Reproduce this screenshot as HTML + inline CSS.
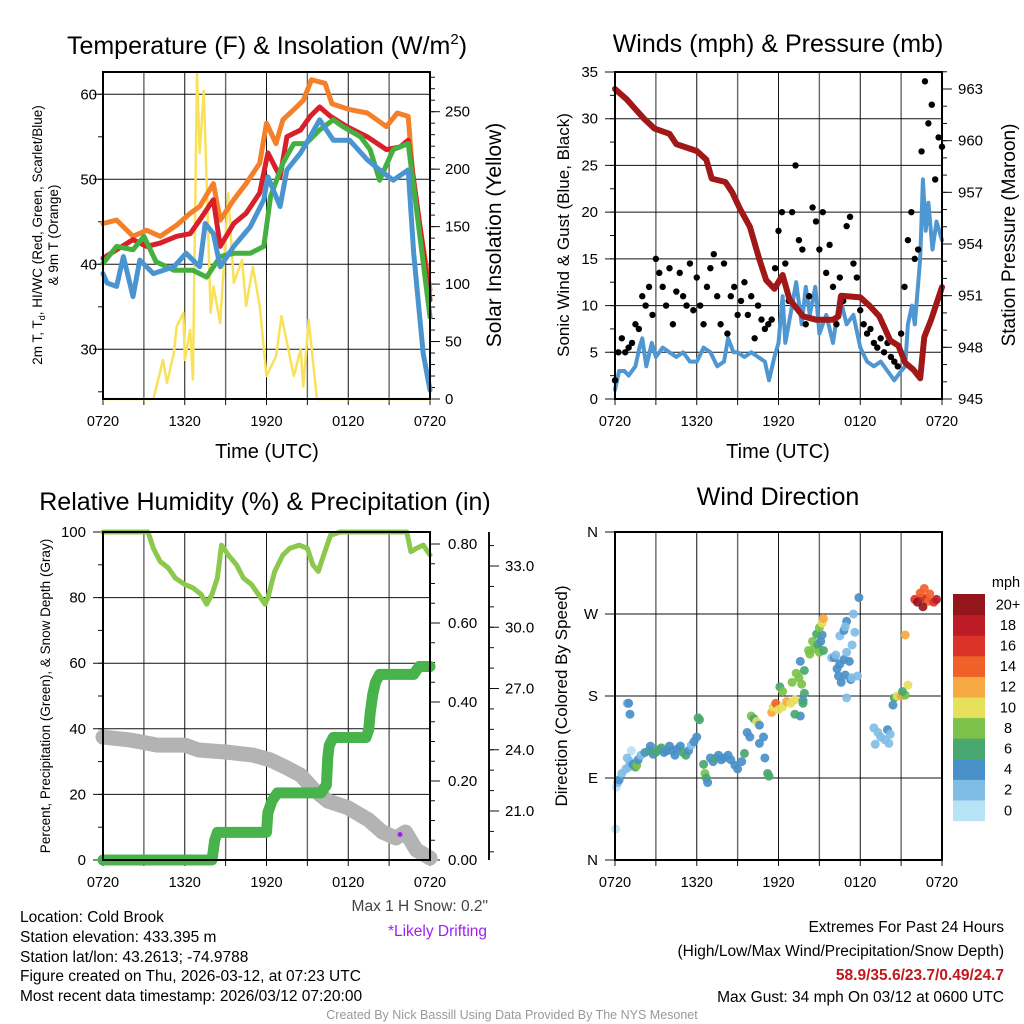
<!DOCTYPE html>
<html><head><meta charset="utf-8">
<style>
html,body{margin:0;padding:0;background:#fff;}
svg{display:block;font-family:"Liberation Sans",Arial,sans-serif;}
</style></head>
<body>
<svg id="c" width="1024" height="1024" viewBox="0 0 1024 1024" xmlns="http://www.w3.org/2000/svg">
<rect width="1024" height="1024" fill="#fff"/>
<g id="p1"></g>
<g id="p2"></g>
<g id="p3"></g>
<g id="p4"></g>
<g font-size="25" text-anchor="middle" fill="#000">
<text x="267" y="54">Temperature (F) &amp; Insolation (W/m<tspan dy="-10" font-size="15">2</tspan><tspan dy="10">)</tspan></text>
<text x="778" y="52">Winds (mph) &amp; Pressure (mb)</text>
<text x="265" y="510">Relative Humidity (%) &amp; Precipitation (in)</text>
<text x="778" y="505">Wind Direction</text>
</g>
<g fill="#000" text-anchor="middle">
<text x="267" y="458" font-size="20">Time (UTC)</text>
<text x="778" y="458" font-size="20">Time (UTC)</text>
<text transform="translate(42,235) rotate(-90)" font-size="13.5">2m T, T<tspan font-size="9" dy="3">d</tspan><tspan dy="-3">, HI/WC (Red, Green, Scarlet/Blue)</tspan></text>
<text transform="translate(58,235) rotate(-90)" font-size="13.5">&amp; 9m T (Orange)</text>
<text transform="translate(501,235) rotate(-90)" font-size="21">Solar Insolation (Yellow)</text>
<text transform="translate(569,235) rotate(-90)" font-size="17">Sonic Wind &amp; Gust (Blue, Black)</text>
<text transform="translate(1015,235) rotate(-90)" font-size="19">Station Pressure (Maroon)</text>
<text transform="translate(50,696) rotate(-90)" font-size="13.5">Percent, Precipitation (Green), &amp; Snow Depth (Gray)</text>
<text transform="translate(567,696) rotate(-90)" font-size="17">Direction (Colored By Speed)</text>
</g>
<g font-size="15.5" fill="#000">
<text x="20" y="922">Location: Cold Brook</text>
<text x="20" y="942">Station elevation: 433.395 m</text>
<text x="20" y="962">Station lat/lon: 43.2613; -74.9788</text>
<text x="20" y="981">Figure created on Thu, 2026-03-12, at 07:23 UTC</text>
<text x="20" y="1001">Most recent data timestamp: 2026/03/12 07:20:00</text>
<text x="488" y="911" text-anchor="end" fill="#444">Max 1 H Snow: 0.2"</text>
<text x="487" y="936" text-anchor="end" fill="#a020f0">*Likely Drifting</text>
<text x="1004" y="932" text-anchor="end">Extremes For Past 24 Hours</text>
<text x="1004" y="956" text-anchor="end">(High/Low/Max Wind/Precipitation/Snow Depth)</text>
<text x="1004" y="980" text-anchor="end" fill="#c0181e" font-weight="bold">58.9/35.6/23.7/0.49/24.7</text>
<text x="1004" y="1002" text-anchor="end">Max Gust: 34 mph On 03/12 at 0600 UTC</text>
<text x="512" y="1019" text-anchor="middle" font-size="12.5" fill="#999">Created By Nick Bassill Using Data Provided By The NYS Mesonet</text>
</g>
</svg>
<script>
// ---------- Panel 1 data ----------
const tRedH=[0,1,2.2,3.2,4.2,5.4,6.4,7.1,8.1,8.6,9.6,10.5,11.5,12.1,13,13.5,14.5,15.2,15.9,16.7,17.9,19.4,20.8,21.8,22.4,22.8,24];
const tRed=[40.7,41.7,42.9,42.1,42.5,43.3,43.6,45.2,47.6,42.1,44.8,46,48.4,53.1,50.3,55,55.8,57.4,58.5,57.4,56.2,55,53.5,53.8,54.6,49.9,35.8];
const tOrgH=[0,1,2.2,3.2,4.2,5.4,6.4,7.1,8.1,8.6,9.6,10.5,11.5,12,12.7,13.2,14,14.7,15.3,16.3,16.8,18.1,19.4,20.8,21.6,22.4,22.8,24];
const tOrg=[44.8,45.2,43.3,44,43.3,44.6,46,46.8,49.5,45.2,47.6,49.5,51.9,56.6,54.2,57,58.2,59.3,61.7,61.3,58.9,58.2,57.8,56.2,57.8,57.4,49.1,37];
const tGrnH=[0,1,2.2,3,3.9,5.2,6.6,7.6,8.6,9.6,10.8,11.8,12.3,13.2,14,14.9,15.9,16.9,17.6,18.9,19.6,20.3,21.3,22.4,22.8,24];
const tGrn=[40.1,42.1,41.7,43.3,40.3,39.3,39.3,38.5,40.9,41.3,41.3,42.1,48,51.9,54.2,54.2,55.8,57,56.2,55,53.5,49.9,53.5,54.2,49.1,33.8];
const tBluH=[0,0.3,1,1.5,2.2,2.7,3.7,5.2,6.1,7.1,7.5,8.1,8.6,9.6,10.8,11.8,12.1,13,13.5,14.5,15.2,15.9,16.9,18.1,19.4,20.3,21.3,22.4,22.8,23.5,24];
const tBlu=[38.9,37.8,37.4,40.9,36.2,40.5,38.9,39.7,41.3,39.7,44.8,43.6,39.7,42.1,44.4,47.6,50.3,46.8,51.1,53.1,55,57,54.6,54.6,52.3,51.1,49.9,51.1,41.3,29.5,25.2];
const solarH=[0,3.7,4.4,4.7,5.2,5.4,5.9,6.0,6.4,6.6,6.9,7.1,7.4,7.9,8.1,8.6,9.2,9.6,10.2,10.5,11.0,11.5,12,12.7,13.1,14,14.5,14.7,15.1,15.7,24];
const solar=[0,0,34,14,40,63,75,34,60,17,283,214,268,75,98,66,179,101,121,81,115,81,20,37,72,20,43,11,69,0,0];
const p1LeftTicks=[30,40,50,60];
const p1RightTicks=[0,50,100,150,200,250];
const timeLabels=["0720","1320","1920","0120","0720"];
// ---------- Panel 2 data ----------
const windH=[0,0.3,0.7,1,1.5,1.8,2,2.3,2.7,3,3.5,4,4.5,5,5.5,6,6.5,7,7.5,8,8.3,8.7,9,9.5,10,10.5,11,11.3,11.7,12,12.3,12.5,13,13.3,13.7,14,14.3,14.7,15,15.5,16,16.5,17,17.5,18,18.5,19,19.5,20,20.5,21,21.3,21.5,21.8,22,22.4,22.6,22.8,23,23.3,23.6,24];
const wind=[1,3,3,2.5,3.5,5.5,6.5,3.5,6,4.5,5.5,5,4.5,5,4,4,5.5,5,3.5,4,6.5,5,5,4.5,5,4.5,4,2,4.5,6,11,6,10,12.5,8,12,9,12,7,9,6,11,8,9,5.5,4,3.5,4,3,2,3,3.5,8,10,8,15,23.5,18,21,16,19,17];
const gust=[2,5,6.5,5,5.5,6,8,7.5,11,10,
12,9,15,13.5,12,10,14,8,11.5,13.5,
11,10,14.5,9.5,13,10,8,12,14,15.5,
11,8,14.5,7,11,12,9,10.5,12.5,9,
11,6.5,10,8.5,7.5,8,8.5,14,18,20,
14.5,10.5,20,25,17,16,8,11,20.5,19,
16,20,13.5,16.5,12,8,13,10.5,18.5,19.5,
14.5,13,9.5,8,7,7.5,6,5.5,6.5,5,
6,4.5,4,3.5,7,12,17,20,15,16,
26.5,34,29.5,31.5,23.5,28,27];
const presH=[0,0.85,2.1,2.9,4.0,4.5,6.0,6.7,7.1,8.1,8.6,9.2,9.9,10.6,11.1,11.7,12.3,12.8,13.8,14.8,16,16.4,16.6,18,18.7,19.4,20.2,20.8,21.3,21.9,22.4,22.7,23.2,24];
const pres=[963,962.4,961.3,960.7,960.4,959.8,959.4,958.9,957.8,957.6,957,956,955,953.1,951.9,951.4,952.2,950.8,949.8,949.6,949.6,949.8,951,950.9,950.4,949.8,948.4,948.1,947.1,946.7,946.2,948.6,949.6,951.5];
const p2LeftTicks=[0,5,10,15,20,25,30,35];
const p2RightTicks=[945,948,951,954,957,960,963];
// ---------- Panel 3 data ----------
const rhH=[0,3.3,3.7,4.2,4.8,5.3,6.0,6.6,7.2,7.6,8.0,8.4,8.7,9.2,9.8,10.3,10.9,11.4,11.9,12.1,12.6,13.2,13.7,14.4,15.0,15.4,15.8,16.2,16.7,17.4,22.3,22.6,23.0,23.5,24];
const rh=[100,100,95,91,89,86,84,83,81,78,81,86,96,93,90,86,84,81,78,80,88,93,95,96,95,90,88,93,99,100,100,94,95,96,93];
const prcH=[0,8.0,8.2,8.4,12.0,12.1,12.4,12.8,16.0,16.4,16.5,16.6,16.9,19.3,19.5,19.6,19.8,20.0,20.3,22.8,23.2,24];
const prc=[0,0,0.05,0.07,0.07,0.12,0.15,0.17,0.17,0.19,0.26,0.29,0.31,0.31,0.33,0.37,0.42,0.45,0.47,0.47,0.49,0.49];
const snowH=[0,2,4,6,7,9,11,12.3,13.5,14.5,15.5,16.5,18,19.5,20.5,21.5,22.2,23,24];
const snow=[24.62,24.48,24.23,24.23,23.99,23.89,23.74,23.5,23.11,22.76,22.03,21.49,21.15,20.56,19.97,19.68,19.97,19.09,18.7];
const driftH=[21.8];
const driftS=[19.85];
const p3LeftTicks=[0,20,40,60,80,100];
const p3PrecTicks=[0,0.2,0.4,0.6,0.8];
const p3SnowTicks=[21,24,27,30,33];
// ---------- Panel 4 data ----------
const dirH=[0.05,0.1,0.2,0.3,0.5,0.8,1.0,1.1,1.3,1.5,1.6,1.2,0.9,1.7,1.9,2.2,2.5,2.6,2.8,3.0,3.2,3.4,3.6,3.8,4.0,4.2,4.4,4.6,4.8,5.0,5.2,5.4,5.6,5.8,6.0,1.1,0.9,1.0,6.5,6.6,6.7,6.8,7.0,7.2,7.4,7.6,7.8,8.0,8.3,8.5,8.8,9.0,9.3,6.1,6.2,9.5,10.0,10.2,9.7,9.9,10.4,10.6,10.6,10.9,11.0,11.2,11.3,11.5,11.6,11.8,12.0,12.3,12.6,12.9,13.2,12.1,12.3,13.0,13.3,13.5,13.7,13.9,13.8,13.6,13.2,13.6,13.9,13.8,14.2,14.3,14.5,14.6,14.9,15.0,15.1,15.2,15.3,14.8,15.0,15.2,15.3,15.9,16.1,16.3,16.5,16.8,17.0,17.2,16.9,17.3,16.6,16.4,17.4,17.0,16.5,16.8,17.0,16.9,17.4,17.6,17.5,17.9,16.2,17.8,19.0,19.3,19.5,19.8,20.0,20.2,19.1,20.1,20.4,20.5,20.7,21.0,21.3,21.1,21.5,21.3,22.0,22.2,22.5,22.8,23.0,22.4,22.6,23.4,23.6,23.1,22.7];
const dirDeg=[34,80,85,88,95,100,102,108,105,102,104,120,112,110,115,118,120,125,116,118,121,123,118,120,125,120,115,122,125,118,115,120,126,130,135,160,172,172,105,95,90,85,112,108,112,115,110,112,115,110,104,100,108,156,154,117,158,155,140,135,152,148,128,135,112,95,92,162,168,172,165,168,174,172,176,190,185,195,205,200,193,183,175,158,160,218,208,172,230,226,240,232,236,228,240,247,230,248,255,260,265,222,222,210,215,220,228,218,203,198,195,202,200,178,246,252,262,256,236,250,270,288,225,202,145,140,135,132,143,138,127,128,170,178,180,180,181,185,192,247,286,283,288,287,284,293,278,283,286,292,298];
const dirSpd=[1,1,3,4,3,2,2,2,5,7,8,1,3,4,3,4,7,4,5,6,6,6,4,4,5,4,4,5,4,6,6,4,3,4,4,4,3,4,6,8,6,4,4,4,6,4,4,4,4,4,4,4,4,7,6,6,8,7,4,4,10,4,4,4,4,6,6,12,10,14,10,11,12,11,10,6,8,8,8,8,8,6,4,4,6,4,6,6,8,8,8,8,6,8,4,4,6,6,8,10,12,2,4,4,4,4,2,4,4,4,4,4,2,2,2,4,4,2,2,2,2,4,2,2,2,2,2,3,4,2,2,3,4,6,10,12,8,6,10,12,16,20,18,16,14,14,20,16,18,14,14];
const dirTicks=[0,90,180,270,360];
const dirTickLabels=["N","E","S","W","N"];
const cbLabels=["0","2","4","6","8","10","12","14","16","18","20+"];
const cbColors=["#b8e3f7","#80bde6","#4a90c8","#48a870","#7cc24a","#e6e05a","#f6a843","#f0612a","#dc3328","#bb1c25","#94161c"];

// ---------- helpers ----------
const NS="http://www.w3.org/2000/svg";
function mk(parent,tag,attrs){const e=document.createElementNS(NS,tag);for(const k in attrs)e.setAttribute(k,attrs[k]);parent.appendChild(e);return e;}
function lin(d0,d1,r0,r1){return v=>r0+(v-d0)*(r1-r0)/(d1-d0);}
function pathFrom(hs,vs,sx,sy){return hs.map((h,i)=>(i?"L":"M")+sx(h).toFixed(1)+","+sy(vs[i]).toFixed(1)).join("");}
function frame(g,B){
  for(let k=0;k<=8;k++){const x=B.x0+k*(B.x1-B.x0)/8;
    const l=mk(g,"line",{x1:x,x2:x,y1:B.y0,y2:B.y1,stroke:k%2?"#666":"#111","stroke-width":k%2?1.4:1});
    
    
    const t=mk(g,"line",{x1:x,x2:x,y1:B.y1,y2:B.y1+6,stroke:"#111","stroke-width":1});
    
    
  }
  for(let k=0;k<5;k++){const x=B.x0+k*(B.x1-B.x0)/4;
    const t=mk(g,"text",{x:x,y:B.y1+27,"font-size":14.5,"text-anchor":"middle",fill:"#000"});t.textContent=timeLabels[k];
    
    
  }
}
function hgrid(g,B,ticks,sy,labels,lx){
  ticks.forEach((v,i)=>{const y=sy(v);
    const l=mk(g,"line",{x1:B.x0-10,x2:B.x1,y1:y,y2:y,stroke:"#111","stroke-width":1});
    
    
    const t=mk(g,"text",{x:lx,y:y+5,"font-size":15,"text-anchor":"end",fill:"#000"});t.textContent=labels?labels[i]:v;
    
    
  });
}
function rightAxis(g,x,y0,y1,ticks,sy,fmt,minorStep,dmin,dmax,lx){
  const a=mk(g,"line",{x1:x,x2:x,y1:y0,y2:y1,stroke:"#111","stroke-width":2});
  
  
  for(let v=dmin;v<=dmax+1e-9;v+=minorStep){const y=sy(v);if(y<y0-0.5||y>y1+0.5)continue;
    const m=mk(g,"line",{x1:x,x2:x+5,y1:y,y2:y,stroke:"#111","stroke-width":1});
    
    }
  ticks.forEach(v=>{const y=sy(v);
    const m=mk(g,"line",{x1:x,x2:x+10,y1:y,y2:y,stroke:"#111","stroke-width":1});
    
    
    const t=mk(g,"text",{x:lx,y:y+5,"font-size":15,"text-anchor":"start",fill:"#000"});t.textContent=fmt(v);
    
    });
}
function leftMinor(g,B,sy,step,dmin,dmax){
  for(let v=dmin;v<=dmax+1e-9;v+=step){const y=sy(v);if(y<B.y0-0.5||y>B.y1+0.5)continue;
    const m=mk(g,"line",{x1:B.x0-5,x2:B.x0,y1:y,y2:y,stroke:"#111","stroke-width":1});
    
    }
}
function box(g,B){const r=mk(g,"rect",{x:B.x0,y:B.y0,width:B.x1-B.x0,height:B.y1-B.y0,fill:"none",stroke:"#000","stroke-width":2});
  
  }
function series(g,hs,vs,sx,sy,color,w,name){const p=mk(g,"path",{d:pathFrom(hs,vs,sx,sy),fill:"none",stroke:color,"stroke-width":w,"stroke-linejoin":"round","stroke-linecap":"round"});
  
  return p;}

// ---------- Panel 1 ----------
(function(){
  const g=document.getElementById("p1");const B={x0:103,x1:430,y0:72,y1:399};
  const sx=lin(0,24,B.x0,B.x1), sT=lin(60,30,94.3,349.3), sS=lin(0,250,399,111.7);
  frame(g,B);hgrid(g,B,p1LeftTicks,sT,null,97);leftMinor(g,B,sT,5,25,65);
  rightAxis(g,B.x1,B.y0,B.y1,p1RightTicks,sS,v=>v,10,0,280,445);
  series(g,solarH,solar,sx,sS,"#f9e15a",2.5,"solar-line");
  series(g,tOrgH,tOrg,sx,sT,"#f4812a",5,"temp-9m-line");
  series(g,tRedH,tRed,sx,sT,"#d8202a",5,"temp-2m-line");
  series(g,tGrnH,tGrn,sx,sT,"#45b03f",5,"windchill-line");
  series(g,tBluH,tBlu,sx,sT,"#4a94d0",5,"dewpoint-line");
  box(g,B);
})();
// ---------- Panel 2 ----------
(function(){
  const g=document.getElementById("p2");const B={x0:615,x1:942,y0:72,y1:399};
  const sx=lin(0,24,B.x0,B.x1), sW=lin(0,35,399,72), sP=lin(963,945,89,399);
  frame(g,B);hgrid(g,B,p2LeftTicks,sW,null,598);leftMinor(g,B,sW,2.5,0,35);
  rightAxis(g,B.x1,B.y0,B.y1,p2RightTicks,sP,v=>v,1,945,964,958);
  series(g,windH,wind,sx,sW,"#4f97d2",4,"sonic-wind-line");
  gust.forEach((v,i)=>{const c=mk(g,"circle",{cx:sx(i*0.25),cy:sW(v),r:3.2,fill:"#000"});
    
    });
  series(g,presH,pres,sx,sP,"#a01818",6,"pressure-line");
  box(g,B);
})();
// ---------- Panel 3 ----------
(function(){
  const g=document.getElementById("p3");const B={x0:103,x1:430,y0:532,y1:860};
  const sx=lin(0,24,B.x0,B.x1), sR=lin(0,100,860,532), sPr=lin(0,0.8,860,544), sSn=lin(21,33,811,566);
  frame(g,B);
  hgrid(g,B,p3LeftTicks,sR,null,86);leftMinor(g,B,sR,10,0,100);
  rightAxis(g,B.x1,B.y0,B.y1,p3PrecTicks,sPr,v=>v.toFixed(2),0.05,0,0.8,448);
  rightAxis(g,489,532,860,p3SnowTicks,sSn,v=>v.toFixed(1),1,19,34,505);
  series(g,snowH,snow,sx,sSn,"#b3b3b3",15,"snow-depth-line");
  series(g,prcH,prc,sx,sPr,"#47b34a",11,"precip-line");
  series(g,rhH,rh,sx,sR,"#8cc84b",5,"rh-line");
  driftH.forEach((h,i)=>{const c=mk(g,"circle",{cx:sx(h),cy:sSn(driftS[i]),r:2.5,fill:"#a020f0"});
    
    });
  box(g,B);
})();
// ---------- Panel 4 ----------
(function(){
  const g=document.getElementById("p4");const B={x0:615,x1:942,y0:532,y1:860};
  const sx=lin(0,24,B.x0,B.x1), sD=lin(0,360,860,532);
  frame(g,B);hgrid(g,B,dirTicks,sD,dirTickLabels,598);
  dirH.forEach((h,i)=>{const b=Math.min(10,Math.floor(dirSpd[i]/2));
    const c=mk(g,"circle",{cx:sx(h),cy:sD(dirDeg[i]),r:4.5,fill:cbColors[b],"fill-opacity":0.92});
    
    });
  box(g,B);
  const cb=mk(g,"g",{});
  
  
  const top=594,bh=20.6;
  cbLabels.forEach((lab,i)=>{const y=top+(10-i)*bh;
    const r=mk(cb,"rect",{x:953,y:y,width:32,height:bh+0.5,fill:cbColors[i]});
    
    
    const t=mk(cb,"text",{x:1008,y:y+bh/2+5,"font-size":14.5,"text-anchor":"middle",fill:"#000"});t.textContent=lab;
    
    });
  const u=mk(cb,"text",{x:1006,y:587,"font-size":14.5,"text-anchor":"middle",fill:"#000"});u.textContent="mph";
  
  
})();
</script>
</body></html>
